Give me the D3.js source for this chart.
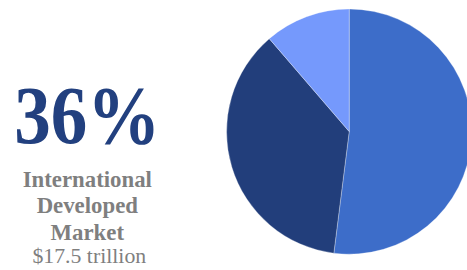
<!DOCTYPE html>
<html><head><meta charset="utf-8">
<script src="https://cdn.jsdelivr.net/npm/d3@7"></script>
<style>html,body{margin:0;padding:0;background:#fff;overflow:hidden}</style>
</head><body>
<svg id="c" width="467" height="270"></svg>
<script>
const categories = ["U.S. Market", "International Developed Market", "Emerging Market"];
const shares = [52.0, 36.7, 11.3];
const colors = ["#3D6DC9", "#223E7B", "#7599FC"];
const headline = "36%";
const labelLines = ["International", "Developed", "Market"];
const amountLabel = "$17.5 trillion";

const svg = d3.select("#c");
const cx = 349.2, cy = 131.6, r = 122.6;

const pie = d3.pie().sort(null).value(d => d.v);
const arc = d3.arc().innerRadius(0).outerRadius(r);
const data = categories.map((c, i) => ({c, v: shares[i], col: colors[i]}));

svg.append("g").attr("transform", `translate(${cx},${cy})`)
  .selectAll("path").data(pie(data)).join("path")
  .attr("d", arc)
  .attr("fill", d => d.data.col)
  .attr("stroke", "#ffffff").attr("stroke-opacity", 0.5).attr("stroke-width", 0.6);

const tx = 87.3;
const serif = "Liberation Serif, DejaVu Serif, serif";
svg.append("text").attr("x", tx).attr("y", 142.8)
  .attr("text-anchor", "middle")
  .style("font-family", serif).attr("font-weight", "bold")
  .attr("font-size", 82).attr("fill", "#22407F")
  .attr("textLength", 146).attr("lengthAdjust", "spacingAndGlyphs")
  .text(headline);

const ys = [186.5, 213.2, 239.8];
labelLines.forEach((t, i) => {
  svg.append("text").attr("x", tx).attr("y", ys[i])
    .attr("text-anchor", "middle")
    .style("font-family", serif).attr("font-weight", "bold")
    .attr("font-size", 22.8).attr("fill", "#7F7F7F")
    .text(t);
});
svg.append("text").attr("x", 89.3).attr("y", 262.8)
  .attr("text-anchor", "middle")
  .style("font-family", serif)
  .attr("font-size", 21.8).attr("fill", "#7F7F7F")
  .text(amountLabel);
</script>
</body></html>
